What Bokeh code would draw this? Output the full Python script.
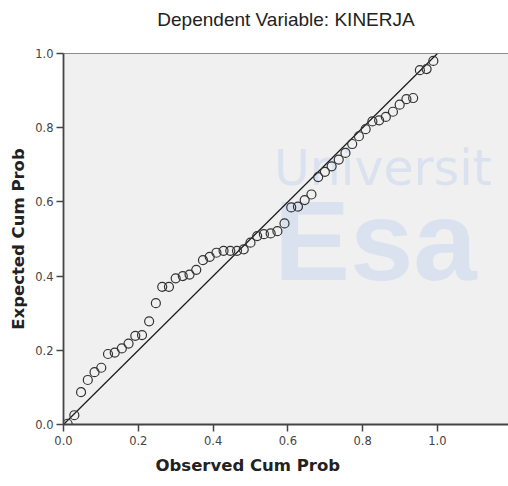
from bokeh.plotting import figure
from bokeh.models import ColumnDataSource, FixedTicker, Label, Span, NumeralTickFormatter, Title
from bokeh.embed import file_html
from bokeh.resources import INLINE

# Data
observed_cum_prob = [0.011, 0.029, 0.047, 0.065, 0.083, 0.101, 0.119, 0.137, 0.156, 0.174,
                     0.192, 0.210, 0.229, 0.247, 0.264, 0.282, 0.300, 0.319, 0.337, 0.355,
                     0.373, 0.391, 0.409, 0.428, 0.446, 0.464, 0.482, 0.500, 0.518, 0.536,
                     0.554, 0.572, 0.591, 0.609, 0.627, 0.645, 0.663, 0.681, 0.699, 0.717,
                     0.736, 0.754, 0.772, 0.790, 0.808, 0.826, 0.844, 0.862, 0.881, 0.899,
                     0.917, 0.935, 0.953, 0.971, 0.989]
expected_cum_prob = [0.002, 0.025, 0.087, 0.120, 0.141, 0.153, 0.190, 0.194, 0.205, 0.218,
                     0.239, 0.241, 0.278, 0.327, 0.371, 0.371, 0.394, 0.400, 0.404, 0.417,
                     0.443, 0.452, 0.463, 0.468, 0.468, 0.468, 0.472, 0.490, 0.508, 0.513,
                     0.515, 0.521, 0.542, 0.585, 0.587, 0.605, 0.620, 0.667, 0.681, 0.696,
                     0.714, 0.732, 0.756, 0.777, 0.796, 0.817, 0.820, 0.829, 0.843, 0.862,
                     0.877, 0.880, 0.955, 0.958, 0.980]
diag_x = [0.0, 1.0]
diag_y = [0.0, 1.0]
tick_values = [0.0, 0.2, 0.4, 0.6, 0.8, 1.0]

title_text = "Dependent Variable: KINERJA"
x_label = "Observed Cum Prob"
y_label = "Expected Cum Prob"
watermark_top = "Universit"
watermark_big = "Esa"

p = figure(width=508, height=486, x_range=(0, 1.19), y_range=(0, 1.0),
           output_backend="svg", toolbar_location=None,
           min_border_left=63, min_border_right=0, min_border_top=53, min_border_bottom=62)

p.background_fill_color = "#f0f0f0"
p.border_fill_color = "white"
p.outline_line_color = None
p.grid.visible = False

# watermark
wm_color = "#dae2f0"
p.add_layout(Label(x=0.5626, y=0.69, text=watermark_top, text_font="DejaVu Sans",
                   text_font_size="49px", text_color=wm_color, text_baseline="alphabetic",
                   level="underlay"))
p.add_layout(Label(x=0.5626, y=0.497, text=watermark_big, text_font="Liberation Sans",
                   text_font_size="114px", text_font_style="bold", text_color=wm_color,
                   text_baseline="alphabetic", level="underlay"))

# top line of frame
p.add_layout(Span(location=1.0, dimension="width", line_color="#222222", line_width=1.2))

src = ColumnDataSource(dict(x=observed_cum_prob, y=expected_cum_prob))
p.line(diag_x, diag_y, line_color="#1a1a1a", line_width=1.2)
p.scatter("x", "y", source=src, marker="circle", size=9, fill_color=None,
          line_color="#333333", line_width=1.2)

for ax in (p.xaxis[0], p.yaxis[0]):
    ax.ticker = FixedTicker(ticks=tick_values)
    ax.formatter = NumeralTickFormatter(format="0.0")
    ax.minor_tick_line_color = None
    ax.major_tick_in = 0
    ax.major_tick_out = 7
    ax.major_tick_line_color = "#444444"
    ax.major_tick_line_width = 1.5
    ax.axis_line_color = "#444444"
    ax.axis_line_width = 1.8
    ax.major_label_text_font = "DejaVu Sans"
    ax.major_label_text_font_size = "11.5px"
    ax.major_label_text_color = "#444444"

p.xaxis[0].major_label_standoff = 4
p.yaxis[0].major_label_standoff = 3

p.yaxis[0].axis_label = y_label
p.yaxis[0].axis_label_text_font = "DejaVu Sans"
p.yaxis[0].axis_label_text_font_size = "16.5px"
p.yaxis[0].axis_label_text_font_style = "bold"
p.yaxis[0].axis_label_text_color = "#222222"
p.yaxis[0].axis_label_standoff = 4

# spacer between the title and the frame
p.add_layout(Title(text=" ", text_font_size="11px", standoff=0), "above")
p.title = Title(text=title_text, align="center", vertical_align="top",
                text_font="Liberation Sans", text_font_size="19px", text_font_style="normal",
                text_color="#222222", standoff=15)
p.add_layout(Title(text=x_label, align="left", offset=92, vertical_align="top",
                   text_font="DejaVu Sans", text_font_size="16.5px", text_font_style="bold",
                   text_color="#222222", standoff=17), "below")

open("out.html", "w").write(file_html(p, INLINE))
